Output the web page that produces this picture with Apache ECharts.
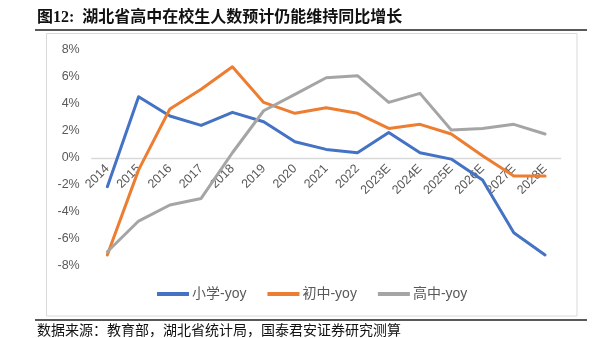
<!DOCTYPE html>
<html>
<head>
<meta charset="utf-8">
<script src="https://cdn.jsdelivr.net/npm/echarts@6/dist/echarts.min.js"></script>
<style>
html,body{margin:0;padding:0;background:#fff;}
#c{width:597px;height:338px;}
</style>
</head>
<body>
<div id="c"></div>
<script>
var categories = ['2014','2015','2016','2017','2018','2019','2020','2021','2022','2023E','2024E','2025E','2026E','2027E','2028E'];
var primaryYoy = [-2.15, 4.53, 3.1, 2.4, 3.37, 2.67, 1.19, 0.62, 0.37, 1.88, 0.37, -0.1, -1.66, -5.57, -7.22];
var juniorYoy  = [-7.22, -0.9, 3.62, 5.08, 6.76, 4.11, 3.3, 3.71, 3.3, 2.18, 2.48, 1.76, 0.15, -1.36, -1.36];
var seniorYoy  = [-6.98, -4.7, -3.51, -3.02, 0.37, 3.49, 4.71, 5.94, 6.09, 4.11, 4.78, 2.06, 2.18, 2.48, 1.76];
var seriesNames = ['小学-yoy', '初中-yoy', '高中-yoy'];
var titleText = '图12:  湖北省高中在校生人数预计仍能维持同比增长';
var sourceText = '数据来源：教育部，湖北省统计局，国泰君安证券研究测算';

var colors = ['#4472C4', '#ED7D31', '#A5A5A5'];
var chart = echarts.init(document.getElementById('c'), null, {renderer: 'canvas'});
var labelFont = '"Liberation Sans", "Noto Sans CJK SC", sans-serif';
var gridTop = 50, gridBottom = 72.5, yMin = -8, yMax = 8;
var gridH = 338 - gridTop - gridBottom;
var zeroOffset = -gridH * (0 - yMin) / (yMax - yMin);
function mk(name, data, color) {
  return {
    name: name, type: 'line', data: data, symbol: 'none', smooth: false,
    lineStyle: {color: color, width: 3, cap: 'round', join: 'round'},
    itemStyle: {color: color}
  };
}
chart.setOption({
  animation: false,
  backgroundColor: '#ffffff',
  color: colors,
  graphic: [
    {type: 'rect', shape: {x: 46.5, y: 33.5, width: 530.5, height: 282.5}, style: {fill: 'none', stroke: '#d9d9d9', lineWidth: 1}, silent: true, z: -1},
    {type: 'line', shape: {x1: 35, y1: 30, x2: 587, y2: 30}, style: {stroke: '#222', lineWidth: 1.5}, silent: true},
    {type: 'line', shape: {x1: 35, y1: 320, x2: 587, y2: 320}, style: {stroke: '#222', lineWidth: 1.5}, silent: true},
    {type: 'text', left: 37, top: 10, style: {text: titleText, font: 'bold 16px "Liberation Serif", "Noto Sans CJK SC", serif', fill: '#111'}},
    {type: 'text', left: 37, top: 324, style: {text: sourceText, font: '14px "Liberation Serif", "Noto Sans CJK SC", serif', fill: '#111'}}
  ],
  legend: {
    data: seriesNames,
    left: 157, top: 287, padding: 0,
    icon: 'rect', itemWidth: 32, itemHeight: 4, itemGap: 21,
    textStyle: {color: '#595959', fontSize: 14, fontFamily: labelFont, padding: [0, 0, 0, -2]}
  },
  grid: {left: 91.7, right: 36.3, top: gridTop, bottom: gridBottom, containLabel: false},
  xAxis: {
    type: 'category', data: categories, boundaryGap: true,
    offset: zeroOffset,
    axisLine: {onZero: false, lineStyle: {color: '#d9d9d9', width: 1.3}},
    axisTick: {show: false},
    axisLabel: {rotate: 45, interval: 0, margin: 9, color: '#595959', fontSize: 12.5, fontFamily: labelFont},
    splitLine: {show: false}
  },
  yAxis: {
    type: 'value', min: yMin, max: yMax, interval: 2,
    axisLine: {show: false}, axisTick: {show: false}, splitLine: {show: false},
    axisLabel: {
      margin: 12, fontSize: 12.5, fontFamily: labelFont,
      color: function (v) { return v === 8 ? '#c8c8c8' : '#595959'; },
      formatter: function (v) { return v + '%'; }
    }
  },
  series: [mk(seriesNames[0], primaryYoy, colors[0]), mk(seriesNames[1], juniorYoy, colors[1]), mk(seriesNames[2], seniorYoy, colors[2])]
});
</script>
</body>
</html>
